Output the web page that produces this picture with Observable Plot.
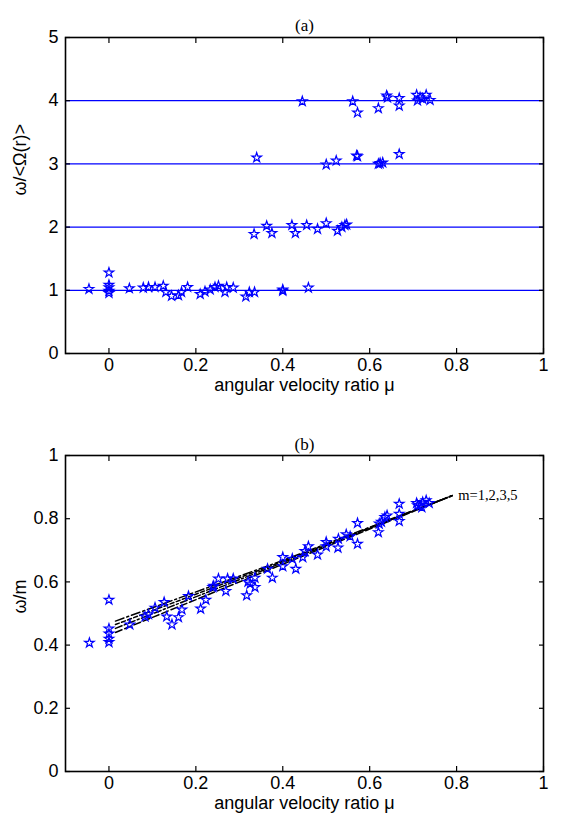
<!DOCTYPE html>
<html><head><meta charset="utf-8">
<script src="https://cdn.jsdelivr.net/npm/d3@7"></script>
<script src="https://cdn.jsdelivr.net/npm/@observablehq/plot@0.6"></script>
<style>body{margin:0;background:#fff;} #chart{width:561px;} #chart svg{display:block;}</style>
</head><body><div id="chart"></div>
<script>
// ---- ticks ----
const xTicks = [0, 0.2, 0.4, 0.6, 0.8, 1];
const xTickLabels = ["0", "0.2", "0.4", "0.6", "0.8", "1"];
const yTicksA = [0, 1, 2, 3, 4, 5];
const yTickLabelsA = ["0", "1", "2", "3", "4", "5"];
const yTicksB = [0, 0.2, 0.4, 0.6, 0.8, 1];
const yTickLabelsB = ["0", "0.2", "0.4", "0.6", "0.8", "1"];
const xTitle = "angular velocity ratio \u03bc";
const yTitleA = "\u03c9/<\u03a9(r)>";
const yTitleB = "\u03c9/m";
const titleA = "(a)";
const titleB = "(b)";
const lineLabel = "m=1,2,3,5";

// ---- panel (a): horizontal levels ----
const levelsA = [1, 2, 3, 4];

// ---- panel (a): measured points ----
const muA = [
  -0.046, 0.0, 0.0, 0.0, 0.0, 0.0, 0.047, 0.079, 0.091, 0.106, 0.125, 0.131, 0.144, 0.16, 0.167, 0.181,
  0.21, 0.221, 0.233, 0.244, 0.252, 0.267, 0.271, 0.286, 0.315, 0.323, 0.335, 0.40, 0.40, 0.459,
  0.334, 0.363, 0.375, 0.421, 0.429, 0.455, 0.48, 0.50, 0.526, 0.536, 0.543, 0.547,
  0.34, 0.50, 0.523, 0.57, 0.572, 0.624, 0.63, 0.62, 0.668,
  0.445, 0.561, 0.572, 0.62, 0.639, 0.641, 0.668, 0.668, 0.708, 0.716, 0.722, 0.73, 0.739, 0.71
];
const valA = [
  1.02, 1.28, 1.085, 1.044, 0.99, 0.956, 1.03, 1.04, 1.05, 1.05, 1.07, 0.97, 0.91, 0.92, 0.97, 1.05,
  0.94, 0.98, 1.01, 1.05, 1.07, 0.97, 1.05, 1.04, 0.90, 0.97, 0.97, 1.01, 0.99, 1.04,
  1.89, 2.02, 1.905, 2.03, 1.905, 2.03, 1.97, 2.06, 1.94, 2.0, 2.03, 2.04,
  3.10, 2.99, 3.05, 3.13, 3.12, 3.01, 3.02, 3.0, 3.155,
  3.99, 3.99, 3.81, 3.88, 4.08, 4.05, 4.04, 3.92, 4.09, 4.05, 4.03, 4.09, 4.01, 4.0
];

// ---- panel (b): measured points ----
const muB = [
  -0.045, 0.0, 0.0, 0.0, 0.0, 0.0, 0.048, 0.083, 0.091, 0.106, 0.127, 0.133, 0.145, 0.16, 0.168, 0.183,
  0.211, 0.223, 0.239, 0.241, 0.252, 0.269, 0.273, 0.286, 0.317, 0.325, 0.336, 0.336, 0.32,
  0.365, 0.376, 0.40, 0.40, 0.422, 0.43, 0.446, 0.451, 0.459, 0.48, 0.50, 0.50, 0.527, 0.528, 0.546, 0.555,
  0.572, 0.572, 0.62, 0.622, 0.627, 0.635, 0.64, 0.668, 0.668, 0.668,
  0.708, 0.716, 0.722, 0.73, 0.737, 0.71, 0.72
];
const valB = [
  0.407, 0.543, 0.452, 0.436, 0.42, 0.409, 0.465, 0.49, 0.497, 0.518, 0.536, 0.49, 0.465, 0.488, 0.512, 0.555,
  0.515, 0.543, 0.583, 0.587, 0.61, 0.571, 0.61, 0.61, 0.557, 0.594, 0.583, 0.613, 0.60,
  0.641, 0.613, 0.678, 0.649, 0.673, 0.641, 0.678, 0.697, 0.712, 0.686, 0.726, 0.712, 0.708, 0.736, 0.75, 0.744,
  0.786, 0.72, 0.757, 0.784, 0.79, 0.805, 0.81, 0.847, 0.815, 0.792,
  0.849, 0.842, 0.852, 0.858, 0.849, 0.842, 0.836
];

// ---- panel (b): model curves for m = 1, 2, 3, 5 ----
const curveMu = [0.015, 0.4, 0.79];
const curveM1 = [0.440, 0.656, 0.873];
const curveM2 = [0.453, 0.661, 0.873];
const curveM3 = [0.465, 0.665, 0.873];
const curveM5 = [0.476, 0.668, 0.873];

// ---- layout ----
const W = 561, ML = 65, MR = 18;
const sans = "'Liberation Sans', Arial, Helvetica, sans-serif";
const serif = "'Liberation Serif', 'Times New Roman', serif";
const blue = "#0000ff";

function boxAxes(yTicks, yLabels) {
  const fmtX = d => xTickLabels[xTicks.indexOf(d)];
  const fmtY = d => yLabels[yTicks.indexOf(d)];
  return [
    Plot.frame({stroke: "black", strokeWidth: 1.6}),
    Plot.axisX(xTicks, {anchor: "bottom", tickSize: 0, tickPadding: 5, tickFormat: fmtX, label: null}),
    Plot.axisY(yTicks, {anchor: "left", tickSize: 0, tickPadding: 7, tickFormat: fmtY, label: null}),
    Plot.axisX(xTicks, {anchor: "bottom", tickSize: -5, tickFormat: () => "", label: null, strokeWidth: 1.2}),
    Plot.axisX(xTicks, {anchor: "top", tickSize: -5, tickFormat: () => "", label: null, strokeWidth: 1.2}),
    Plot.axisY(yTicks, {anchor: "left", tickSize: -5, tickFormat: () => "", label: null, strokeWidth: 1.2}),
    Plot.axisY(yTicks, {anchor: "right", tickSize: -5, tickFormat: () => "", label: null, strokeWidth: 1.2})
  ];
}

function titles(t, yt, dyTitle) {
  return [
    Plot.text([t], {text: d => d, frameAnchor: "top", dy: dyTitle, fontFamily: serif, fontSize: 17}),
    Plot.text([xTitle], {text: d => d, frameAnchor: "bottom", dy: 37}),
    Plot.text([yt], {text: d => d, frameAnchor: "left", dx: -45, rotate: -90})
  ];
}

const idxA = d3.range(muA.length);
const plotA = Plot.plot({
  width: W, height: 410, marginLeft: ML, marginRight: MR, marginTop: 37, marginBottom: 57,
  style: {fontFamily: sans, fontSize: "18px", color: "black", background: "white", overflow: "visible"},
  x: {domain: [-0.1, 1]},
  y: {domain: [0, 5]},
  marks: [
    Plot.ruleY(levelsA, {stroke: blue, strokeWidth: 1.3}),
    Plot.dot(idxA, {x: i => muA[i], y: i => valA[i], symbol: "star", r: 3, stroke: blue, fill: "none", strokeWidth: 1.2}),
    ...boxAxes(yTicksA, yTickLabelsA),
    ...titles(titleA, yTitleA, -19)
  ]
});

const idxB = d3.range(muB.length);
const curves = [curveM1, curveM2, curveM3, curveM5];
const dashes = ["7,3", "7,2.5,2,2.5", "4,2.5", "9,3,2,3"];
const curveMarks = curves.map((vals, k) =>
  Plot.line(curveMu.map((m, j) => ({mu: m, v: vals[j]})), {x: "mu", y: "v", stroke: "black", strokeWidth: 1.5, strokeDasharray: dashes[k]})
);
const plotB = Plot.plot({
  width: W, height: 409, marginLeft: ML, marginRight: MR, marginTop: 45, marginBottom: 48,
  style: {fontFamily: sans, fontSize: "18px", color: "black", background: "white", overflow: "visible"},
  x: {domain: [-0.1, 1]},
  y: {domain: [0, 1]},
  marks: [
    ...curveMarks,
    Plot.dot(idxB, {x: i => muB[i], y: i => valB[i], symbol: "star", r: 3, stroke: blue, fill: "none", strokeWidth: 1.2}),
    Plot.text([lineLabel], {x: () => curveMu[curveMu.length - 1], y: () => curveM1[curveM1.length - 1], text: d => d, dx: 6, textAnchor: "start", fontFamily: serif, fontSize: 14.5}),
    ...boxAxes(yTicksB, yTickLabelsB),
    ...titles(titleB, yTitleB, -18)
  ]
});

const c = document.getElementById("chart");
c.appendChild(plotA);
c.appendChild(plotB);
</script>
</body></html>
